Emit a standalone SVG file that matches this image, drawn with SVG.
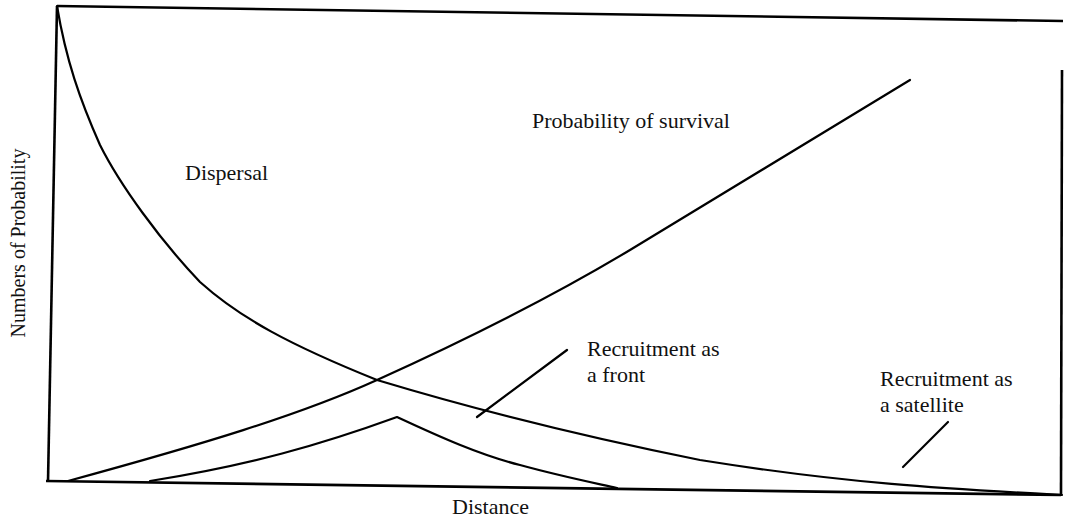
<svg xmlns="http://www.w3.org/2000/svg" width="1065" height="520" viewBox="0 0 1065 520">
<style>
.ln{fill:none;stroke:#000;stroke-width:2.2;stroke-linejoin:round;stroke-linecap:round}
.fr{fill:none;stroke:#000;stroke-width:2.6}
text{font-family:"Liberation Serif","Times New Roman",serif;font-size:22px;fill:#111}
.yl{font-size:20px}
</style>
<rect width="1065" height="520" fill="#fff"/>
<g id="frame">
<path class="fr" d="M57,6 L1063,21"/>
<path class="fr" d="M57,6 L48,482"/>
<path class="fr" d="M46,481 L1061,495"/>
<path class="fr" d="M1062,70 L1061,495"/>
</g>
<g id="curves">
<path id="dispersal" class="ln" d="M57,6 C66,60 80,100 100,145 C120,185 160,240 200,282 C240,318 290,345 377,380 C450,402 550,430 700,460 C850,484 950,489 1062,495"/>
<path id="survival" class="ln" d="M68,481 C200,445 300,415 377,380 C470,338 560,292 630,250 L910,80"/>
<path id="front" class="ln" d="M150,481 C250,465 320,445 397,417 C440,437 480,455 520,465 C560,476 590,482 617,488"/>
</g>
<g id="connectors">
<path class="ln" d="M477,417 L567,350"/>
<path class="ln" d="M903,467 L948,422"/>
</g>
<g id="labels">
<text x="185" y="180">Dispersal</text>
<text x="532" y="128">Probability of survival</text>
<text x="587" y="356">Recruitment as</text>
<text x="587" y="382">a front</text>
<text x="880" y="386">Recruitment as</text>
<text x="880" y="412">a satellite</text>
<text x="452" y="514">Distance</text>
<text class="yl" transform="translate(25,243) rotate(-90)" text-anchor="middle">Numbers of Probability</text>
</g>
</svg>
